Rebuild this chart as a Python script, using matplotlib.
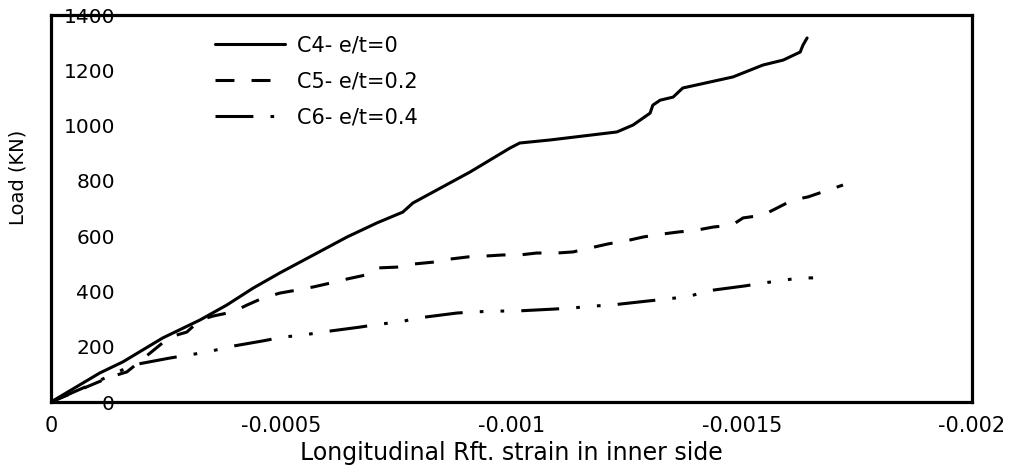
import matplotlib
matplotlib.use('Agg')
import matplotlib.pyplot as plt

# strain (negative = compression) vs load for the three columns
c4_strain = [0, -0.000106, -0.000156, -0.000243, -0.000324, -0.000382, -0.000439,
             -0.000497, -0.000578, -0.000643, -0.000708, -0.000764, -0.000786,
             -0.000838, -0.000910, -0.000997, -0.001018, -0.001084, -0.001229,
             -0.001264, -0.001301, -0.001307, -0.001323, -0.001351, -0.001372,
             -0.001481, -0.001546, -0.001590, -0.001627, -0.001633, -0.001642]
c4_load = [0, 105, 145, 232, 297, 351, 412,
           467, 539, 597, 648, 687, 720,
           767, 832, 919, 937, 948, 977,
           1002, 1045, 1074, 1092, 1103, 1136,
           1176, 1219, 1237, 1266, 1291, 1317]

c5_strain = [0, -0.000128, -0.000165, -0.000258, -0.000295, -0.000324, -0.000352,
             -0.000395, -0.000426, -0.000460, -0.000497, -0.000534, -0.000569,
             -0.000606, -0.000643, -0.000682, -0.000708, -0.000751, -0.000786,
             -0.000830, -0.000866, -0.000906, -0.000942, -0.000982, -0.001018,
             -0.001055, -0.001099, -0.001134, -0.001170, -0.001210, -0.001257,
             -0.001286, -0.001329, -0.001362, -0.001403, -0.001438, -0.001479,
             -0.001503, -0.001546, -0.001577, -0.001611, -0.001644, -0.001681,
             -0.001720]
c5_load = [0, 90, 109, 235, 253, 297, 311,
           326, 351, 376, 394, 405, 416,
           430, 445, 459, 485, 488, 499,
           506, 517, 525, 528, 532, 532,
           539, 539, 543, 557, 572, 586,
           597, 608, 615, 622, 633, 640,
           666, 676, 702, 731, 742, 763,
           785]

c6_strain = [0, -0.000085, -0.000178, -0.000258, -0.000298, -0.000341, -0.000384,
             -0.000460, -0.000504, -0.000547, -0.000589, -0.000671, -0.000714,
             -0.000756, -0.000797, -0.000882, -0.000921, -0.000964, -0.001008,
             -0.001090, -0.001131, -0.001177, -0.001218, -0.001294, -0.001340,
             -0.001388, -0.001425, -0.001507, -0.001546, -0.001590, -0.001631,
             -0.001655]
c6_load = [0, 62, 134, 159, 170, 181, 199,
           221, 235, 242, 253, 271, 282,
           289, 304, 322, 326, 329, 329,
           336, 340, 347, 351, 365, 373,
           383, 402, 420, 430, 441, 449,
           449]

labels = ['C4- e/t=0', 'C5- e/t=0.2', 'C6- e/t=0.4']
x_ticks = [0, -0.0005, -0.001, -0.0015, -0.002]
x_tick_labels = ['0', '-0.0005', '-0.001', '-0.0015', '-0.002']
y_ticks = [0, 200, 400, 600, 800, 1000, 1200, 1400]
y_tick_labels = ['0', '200', '400', '600', '800', '1000', '1200', '1400']

plt.rcParams['font.family'] = ['DejaVu Sans']

fig = plt.figure(figsize=(10.15, 4.68), dpi=100)
ax = fig.add_axes([0.0502, 0.141, 0.9074, 0.8269])

lw = 2.2
ax.plot(c4_strain, c4_load, color='black', linewidth=lw, linestyle='-',
        solid_capstyle='round', label=labels[0])
ax.plot(c5_strain, c5_load, color='black', linewidth=lw,
        linestyle=(0, (6.2, 5.6)), label=labels[1])
ax.plot(c6_strain, c6_load, color='black', linewidth=lw,
        linestyle=(0, (12.4, 5.6, 1.2, 5.6, 1.2, 5.6)), label=labels[2])

ax.set_xlim(0, -0.002)
ax.set_ylim(0, 1400)
ax.set_xticks(x_ticks)
ax.set_xticklabels(x_tick_labels)
ax.set_yticks(y_ticks)
ax.set_yticklabels(y_tick_labels)

ax.tick_params(axis='x', length=0, pad=10, labelsize=15)
ax.tick_params(axis='y', length=0, pad=-46, labelsize=14.5)

for s in ax.spines.values():
    s.set_linewidth(2.3)

ax.set_xlabel('Longitudinal Rft. strain in inner side', fontsize=17, labelpad=4)
ax.set_ylabel('Load (KN)', fontsize=14)
ax.yaxis.set_label_coords(-0.025, 0.58)

ax.legend(loc='upper left', bbox_to_anchor=(0.178, 0.948), frameon=False,
          fontsize=15, handlelength=3.37, handletextpad=0.55, labelspacing=0.78,
          borderaxespad=0, borderpad=0)

fig.savefig('out.png', dpi=100)
